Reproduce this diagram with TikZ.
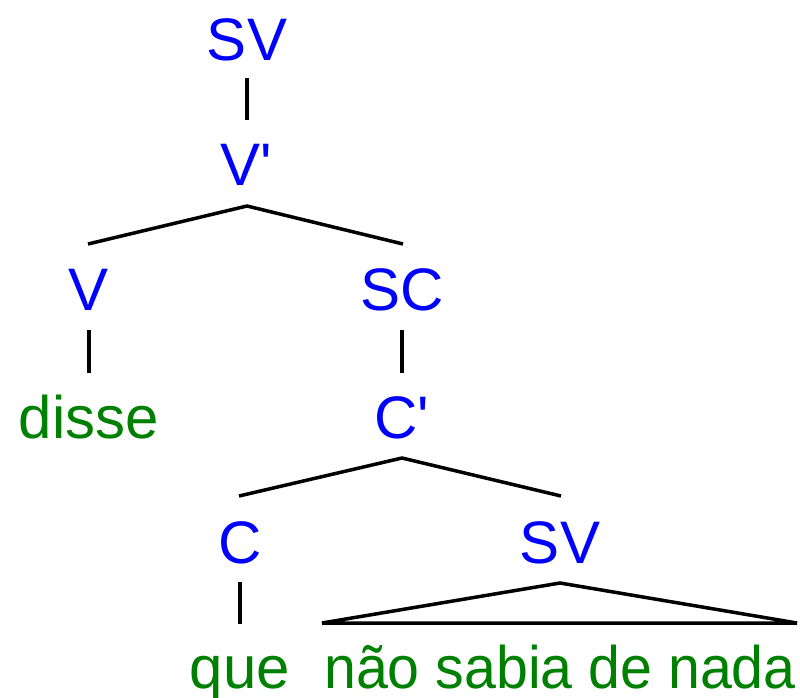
\documentclass[tikz,border=0pt]{standalone}
\usepackage{graphicx}
\usepackage{fontspec}
\setmainfont{Liberation Sans}[Ligatures=TeXOff]
\definecolor{catblue}{RGB}{0,0,255}
\definecolor{wordgreen}{RGB}{0,128,0}
\tikzset{
  cat/.style={text=catblue, inner sep=0pt, anchor=base, text height=43pt, text depth=0pt, font=\fontsize{60}{60}\selectfont},
  word/.style={text=wordgreen, inner sep=0pt, anchor=base, text height=43pt, text depth=0pt, font=\fontsize{60}{60}\selectfont},
  edge/.style={draw=black, line width=3.5pt},
}
\begin{document}
\begin{tikzpicture}[x=1pt,y=-1pt]
\useasboundingbox (0,0) rectangle (800,697);
\node[cat] (sv1) at (247,60) {SV};
\node[cat] (vb) at (246,185) {V'};
\node[cat] (v) at (89,310) {V};
\node[cat] (sc) at (402,310) {SC};
\node[word] (disse) at (89,438) {disse};
\node[cat] (cb) at (402,438) {C'};
\node[cat] (c) at (240,563) {C};
\node[cat] (sv2) at (560,563) {SV};
\node[word] (que) at (240,688) {que};
\node[word] (rest) at (560,688) {\scalebox{0.955}[1]{não sabia de nada}};
\coordinate (p1) at (247,206);
\coordinate (l1) at (88,244);
\coordinate (r1) at (403,244);
\coordinate (p2) at (402,458);
\coordinate (l2) at (239,496);
\coordinate (r2) at (561,496);
\coordinate (p3) at (560,583);
\coordinate (tl) at (322,623);
\coordinate (tr) at (797,623);
\draw[edge] ([yshift=-18pt]sv1.south) -- ([yshift=22pt,xshift=1pt]vb.north);
\draw[edge] (l1) -- (p1) -- (r1);
\draw[edge] ([yshift=-20pt]v.south) -- ([yshift=22pt]disse.north);
\draw[edge] ([yshift=-20pt]sc.south) -- ([yshift=22pt]cb.north);
\draw[edge] (l2) -- (p2) -- (r2);
\draw[edge] ([yshift=-19pt]c.south) -- ([yshift=21pt]que.north);
\draw[edge, line join=miter] (tl) -- (p3) -- (tr) -- cycle;
\end{tikzpicture}
\end{document}
